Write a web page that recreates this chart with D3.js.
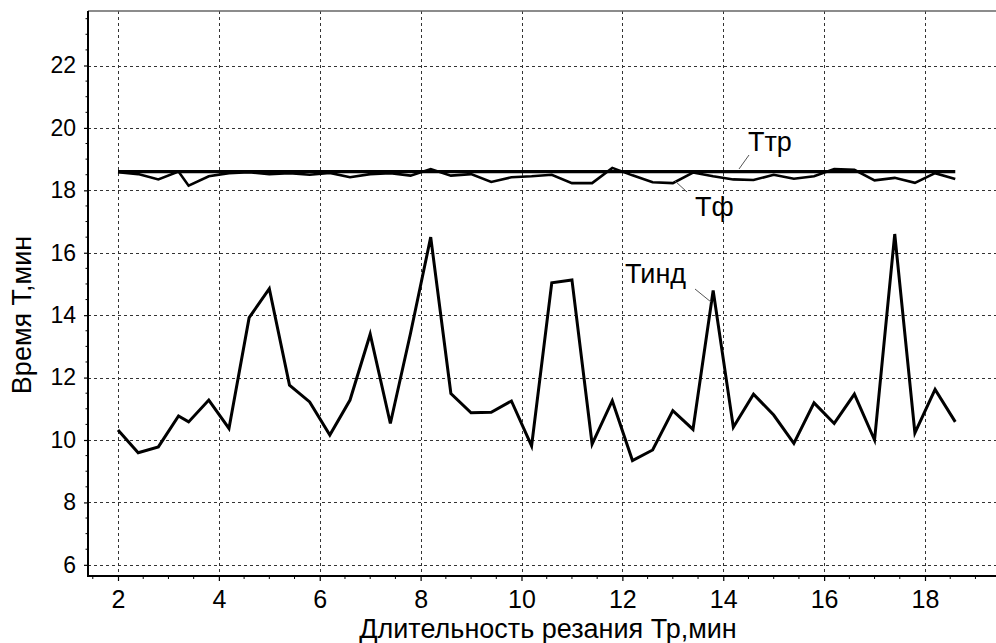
<!DOCTYPE html>
<html>
<head>
<meta charset="utf-8">
<script src="https://cdn.jsdelivr.net/npm/d3@7"></script>
<style>
  html, body { margin: 0; padding: 0; background: #fff; }
  svg { display: block; font-family: "Liberation Sans", Arial, sans-serif; }
</style>
</head>
<body>
<svg id="chart" width="996" height="643"></svg>
<script>
// ---- data ----
const tpValues = [2.0, 2.4, 2.8, 3.2, 3.4, 3.8, 4.2, 4.6, 5.0, 5.4, 5.8, 6.2, 6.6, 7.0, 7.4, 7.8, 8.2, 8.6, 9.0, 9.4, 9.8,
  10.2, 10.6, 11.0, 11.4, 11.8, 12.2, 12.6, 13.0, 13.4, 13.8, 14.2, 14.6, 15.0, 15.4, 15.8, 16.2, 16.6, 17.0, 17.4, 17.8, 18.2, 18.6];
const tindValues = [10.32, 9.59, 9.78, 10.77, 10.58, 11.28, 10.37, 13.92, 14.85, 11.76, 11.22, 10.16, 11.28, 13.39, 10.53, 13.42,
  16.50, 11.49, 10.87, 10.89, 11.25, 9.81, 15.04, 15.13, 9.87, 11.26, 9.34, 9.68, 10.94, 10.34, 14.79, 10.41, 11.47, 10.80,
  9.89, 11.19, 10.53, 11.47, 10.00, 16.60, 10.23, 11.62, 10.58];
const tfValues = [18.58, 18.52, 18.35, 18.60, 18.15, 18.45, 18.55, 18.58, 18.52, 18.55, 18.50, 18.56, 18.42, 18.52, 18.55, 18.47,
  18.68, 18.47, 18.52, 18.27, 18.42, 18.45, 18.50, 18.23, 18.23, 18.72, 18.48, 18.26, 18.23, 18.57, 18.45, 18.35, 18.33, 18.50,
  18.37, 18.45, 18.68, 18.66, 18.32, 18.40, 18.24, 18.55, 18.36];
const ttrX = [2.0, 18.6];
const ttrValues = [18.6, 18.6];
const xTickValues = [2, 4, 6, 8, 10, 12, 14, 16, 18];
const yTickValues = [6, 8, 10, 12, 14, 16, 18, 20, 22];
const xTitle = "Длительность резания Тр,мин";
const yTitle = "Время Т,мин";
const seriesLabels = { ttr: "Ттр", tf: "Тф", tind: "Тинд" };

(function () {
// ---- layout ----
const svg = d3.select("#chart");
const pLeft = 88, pRight = 996, pTop = 11, pBottom = 576;
const x = d3.scaleLinear().domain([2, 18]).range([118, 925]);
const y = d3.scaleLinear().domain([10, 22]).range([440, 65.5]);

const xMin = x.invert(pLeft), xMax = x.invert(pRight);
const yMin = y.invert(pBottom), yMax = y.invert(pTop);

// grid
const grid = svg.append("g").attr("stroke", "#333").attr("stroke-width", 1).attr("stroke-dasharray", "3,3");
grid.selectAll("line.h").data(yTickValues).join("line").attr("class", "h")
  .attr("x1", pLeft).attr("x2", pRight)
  .attr("y1", d => Math.round(y(d)) + 0.5).attr("y2", d => Math.round(y(d)) + 0.5);
grid.selectAll("line.v").data(xTickValues).join("line").attr("class", "v")
  .attr("y1", pTop).attr("y2", pBottom)
  .attr("x1", d => Math.round(x(d)) + 0.5).attr("x2", d => Math.round(x(d)) + 0.5);

// series
const line = d3.line().x(d => x(d[0])).y(d => y(d[1]));
svg.append("path").datum(d3.zip(ttrX, ttrValues)).attr("d", line)
  .attr("fill", "none").attr("stroke", "#000").attr("stroke-width", 3.2);
svg.append("path").datum(d3.zip(tpValues, tfValues)).attr("d", line)
  .attr("fill", "none").attr("stroke", "#000").attr("stroke-width", 2.6).attr("stroke-linejoin", "miter");
svg.append("path").datum(d3.zip(tpValues, tindValues)).attr("d", line)
  .attr("fill", "none").attr("stroke", "#000").attr("stroke-width", 3).attr("stroke-linejoin", "miter");

// axes
const xMinor = d3.range(Math.ceil(xMin * 2) / 2, xMax, 0.5).filter(v => !xTickValues.includes(v));
const yMinor = d3.range(Math.ceil(yMin * 2) / 2, yMax, 0.5).filter(v => !yTickValues.includes(v));

const xAxis = svg.append("g").attr("transform", `translate(0,${pBottom})`)
  .call(d3.axisBottom(x).tickValues(xTickValues).tickSize(5).tickPadding(9));
xAxis.select(".domain").remove();
xAxis.selectAll(".tick line").attr("stroke", "#000").attr("stroke-width", 1.2);
xAxis.selectAll(".tick text").attr("font-size", 25).attr("fill", "#000")
  .attr("font-family", "Liberation Sans, Arial, sans-serif");
svg.append("g").selectAll("line").data(xMinor).join("line")
  .attr("x1", d => x(d)).attr("x2", d => x(d)).attr("y1", pBottom).attr("y2", pBottom + 3)
  .attr("stroke", "#000").attr("stroke-width", 1);

const yAxis = svg.append("g").attr("transform", `translate(${pLeft},0)`)
  .call(d3.axisLeft(y).tickValues(yTickValues).tickSize(4).tickPadding(8));
yAxis.select(".domain").remove();
yAxis.selectAll(".tick line").attr("stroke", "#000").attr("stroke-width", 1.2);
yAxis.selectAll(".tick text").attr("font-size", 23).attr("fill", "#000")
  .attr("font-family", "Liberation Sans, Arial, sans-serif");
svg.append("g").selectAll("line").data(yMinor).join("line")
  .attr("y1", d => y(d)).attr("y2", d => y(d)).attr("x1", pLeft - 2.5).attr("x2", pLeft)
  .attr("stroke", "#000").attr("stroke-width", 1);

// frame
svg.append("line").attr("x1", pLeft).attr("x2", pRight).attr("y1", pTop).attr("y2", pTop)
  .attr("stroke", "#666").attr("stroke-width", 1.5);
svg.append("line").attr("x1", pLeft).attr("x2", pLeft).attr("y1", pTop).attr("y2", pBottom + 1)
  .attr("stroke", "#000").attr("stroke-width", 2);
svg.append("line").attr("x1", pLeft).attr("x2", pRight).attr("y1", pBottom).attr("y2", pBottom)
  .attr("stroke", "#000").attr("stroke-width", 2);

// titles
svg.append("text").attr("x", 548).attr("y", 638).attr("text-anchor", "middle")
  .attr("font-size", 27).attr("fill", "#000").text(xTitle);
svg.append("text").attr("transform", "translate(31,315) rotate(-90)").attr("text-anchor", "middle")
  .attr("font-size", 27).attr("fill", "#000").text(yTitle);

// annotations with leader lines
const ann = [
  { label: seriesLabels.ttr, tx: 748, ty: 151, l: [[749, 155], [739, 169]] },
  { label: seriesLabels.tf, tx: 695, ty: 216, l: [[687, 192], [675, 181]] },
  { label: seriesLabels.tind, tx: 625, ty: 283, l: [[695, 289], [711, 302]] }
];
ann.forEach(a => {
  svg.append("line").attr("x1", a.l[0][0]).attr("y1", a.l[0][1]).attr("x2", a.l[1][0]).attr("y2", a.l[1][1])
    .attr("stroke", "#555").attr("stroke-width", 1);
  svg.append("text").attr("x", a.tx).attr("y", a.ty).attr("font-size", 27).attr("fill", "#000").text(a.label);
});
})();
</script>
</body>
</html>
